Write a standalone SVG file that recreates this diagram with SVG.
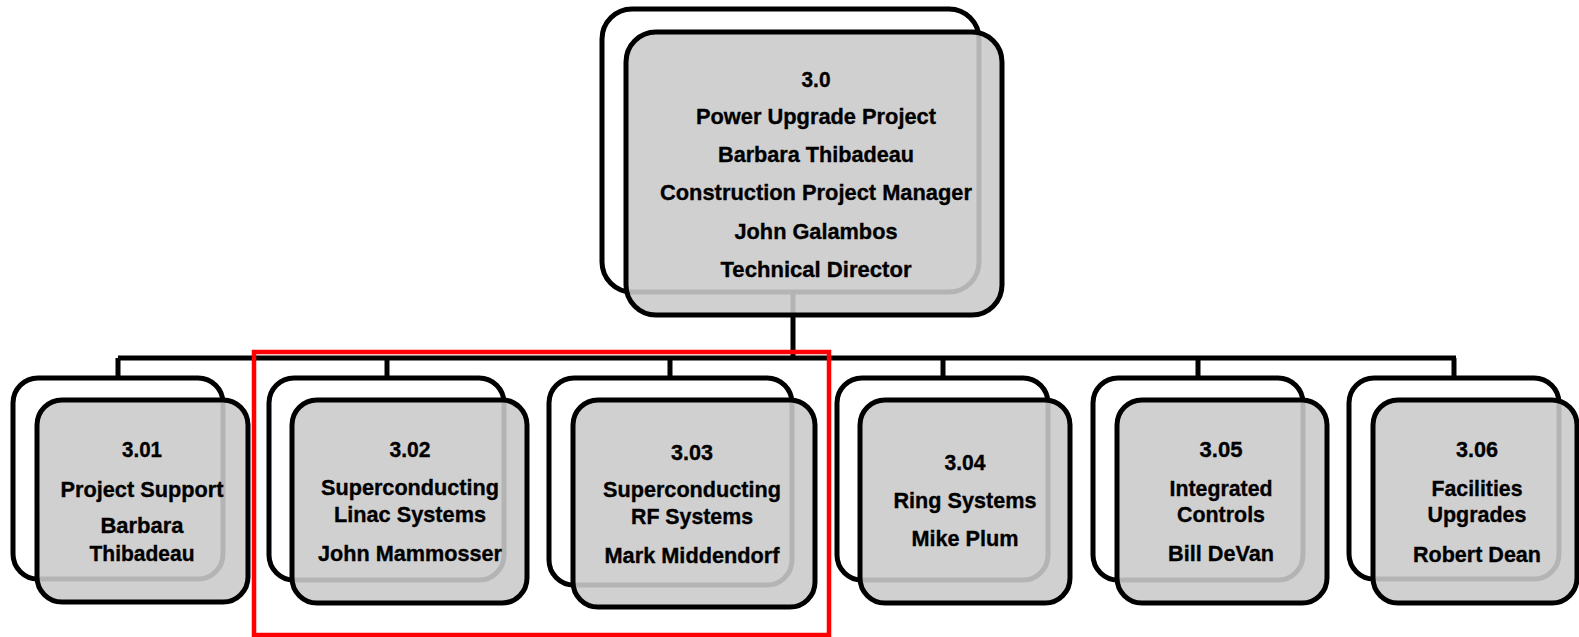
<svg xmlns="http://www.w3.org/2000/svg" width="1579" height="637" viewBox="0 0 1579 637">
<style>
.back{fill:#ffffff;stroke:#000;stroke-width:5}
.front{fill:rgb(202,202,202);fill-opacity:0.89;stroke:#000;stroke-width:5}
.conn{fill:none;stroke:#000;stroke-width:5}
.t{font-family:"Liberation Sans",Arial,sans-serif;font-weight:bold;font-size:22.5px;fill:#000;stroke:#000;stroke-width:0.35;text-anchor:middle}
.hl{fill:none;stroke:#ff0000;stroke-width:4.5}
</style>
<rect width="1579" height="637" fill="#ffffff"/>
<g id="connectors">
  <line class="conn" x1="793" y1="292" x2="793" y2="358"/>
  <line class="conn" x1="118" y1="358" x2="1456" y2="358"/>
  <line class="conn" x1="118" y1="358" x2="118" y2="378"/>
  <line class="conn" x1="387" y1="358" x2="387" y2="378"/>
  <line class="conn" x1="670" y1="358" x2="670" y2="378"/>
  <line class="conn" x1="943" y1="358" x2="943" y2="378"/>
  <line class="conn" x1="1198" y1="358" x2="1198" y2="378"/>
  <line class="conn" x1="1454" y1="358" x2="1454" y2="378"/>
</g>
<g id="node-3.0">
  <rect class="back" x="602" y="9" width="377" height="283" rx="30"/>
  <rect class="front" x="626" y="32" width="376" height="283" rx="30"/>
  <text class="t" x="816" y="87" textLength="29" lengthAdjust="spacingAndGlyphs">3.0</text>
  <text class="t" x="816" y="124" textLength="240" lengthAdjust="spacingAndGlyphs">Power Upgrade Project</text>
  <text class="t" x="816" y="162" textLength="196" lengthAdjust="spacingAndGlyphs">Barbara Thibadeau</text>
  <text class="t" x="816" y="200" textLength="312" lengthAdjust="spacingAndGlyphs">Construction Project Manager</text>
  <text class="t" x="816" y="239" textLength="163" lengthAdjust="spacingAndGlyphs">John Galambos</text>
  <text class="t" x="816" y="277" textLength="191" lengthAdjust="spacingAndGlyphs">Technical Director</text>
</g>
<g id="node-3.01">
  <rect class="back" x="13" y="378" width="210" height="201" rx="25"/>
  <rect class="front" x="37" y="400" width="211" height="202" rx="25"/>
  <text class="t" x="142" y="457" textLength="40" lengthAdjust="spacingAndGlyphs">3.01</text>
  <text class="t" x="142" y="497" textLength="163" lengthAdjust="spacingAndGlyphs">Project Support</text>
  <text class="t" x="142" y="533" textLength="83" lengthAdjust="spacingAndGlyphs">Barbara</text>
  <text class="t" x="142" y="561" textLength="105" lengthAdjust="spacingAndGlyphs">Thibadeau</text>
</g>
<g id="node-3.02">
  <rect class="back" x="269" y="378" width="235" height="202" rx="25"/>
  <rect class="front" x="292" y="400" width="235" height="203" rx="25"/>
  <text class="t" x="410" y="457" textLength="41" lengthAdjust="spacingAndGlyphs">3.02</text>
  <text class="t" x="410" y="495" textLength="178" lengthAdjust="spacingAndGlyphs">Superconducting</text>
  <text class="t" x="410" y="522" textLength="152" lengthAdjust="spacingAndGlyphs">Linac Systems</text>
  <text class="t" x="410" y="561" textLength="184" lengthAdjust="spacingAndGlyphs">John Mammosser</text>
</g>
<g id="node-3.03">
  <rect class="back" x="549" y="378" width="243" height="207" rx="25"/>
  <rect class="front" x="573" y="400" width="242" height="207" rx="25"/>
  <text class="t" x="692" y="460" textLength="42" lengthAdjust="spacingAndGlyphs">3.03</text>
  <text class="t" x="692" y="497" textLength="178" lengthAdjust="spacingAndGlyphs">Superconducting</text>
  <text class="t" x="692" y="524" textLength="122" lengthAdjust="spacingAndGlyphs">RF Systems</text>
  <text class="t" x="692" y="563" textLength="175" lengthAdjust="spacingAndGlyphs">Mark Middendorf</text>
</g>
<g id="node-3.04">
  <rect class="back" x="837" y="378" width="211" height="202" rx="25"/>
  <rect class="front" x="860" y="400" width="210" height="203" rx="25"/>
  <text class="t" x="965" y="470" textLength="41" lengthAdjust="spacingAndGlyphs">3.04</text>
  <text class="t" x="965" y="508" textLength="143" lengthAdjust="spacingAndGlyphs">Ring Systems</text>
  <text class="t" x="965" y="546" textLength="107" lengthAdjust="spacingAndGlyphs">Mike Plum</text>
</g>
<g id="node-3.05">
  <rect class="back" x="1093" y="378" width="210" height="202" rx="25"/>
  <rect class="front" x="1117" y="400" width="210" height="203" rx="25"/>
  <text class="t" x="1221" y="457" textLength="43" lengthAdjust="spacingAndGlyphs">3.05</text>
  <text class="t" x="1221" y="496" textLength="103" lengthAdjust="spacingAndGlyphs">Integrated</text>
  <text class="t" x="1221" y="522" textLength="88" lengthAdjust="spacingAndGlyphs">Controls</text>
  <text class="t" x="1221" y="561" textLength="106" lengthAdjust="spacingAndGlyphs">Bill DeVan</text>
</g>
<g id="node-3.06">
  <rect class="back" x="1349" y="378" width="210" height="201" rx="25"/>
  <rect class="front" x="1373" y="400" width="204" height="203" rx="25"/>
  <text class="t" x="1477" y="457" textLength="42" lengthAdjust="spacingAndGlyphs">3.06</text>
  <text class="t" x="1477" y="496" textLength="91" lengthAdjust="spacingAndGlyphs">Facilities</text>
  <text class="t" x="1477" y="522" textLength="99" lengthAdjust="spacingAndGlyphs">Upgrades</text>
  <text class="t" x="1477" y="562" textLength="128" lengthAdjust="spacingAndGlyphs">Robert Dean</text>
</g>
<rect id="highlight" class="hl" x="254" y="352" width="575" height="283"/>
</svg>
